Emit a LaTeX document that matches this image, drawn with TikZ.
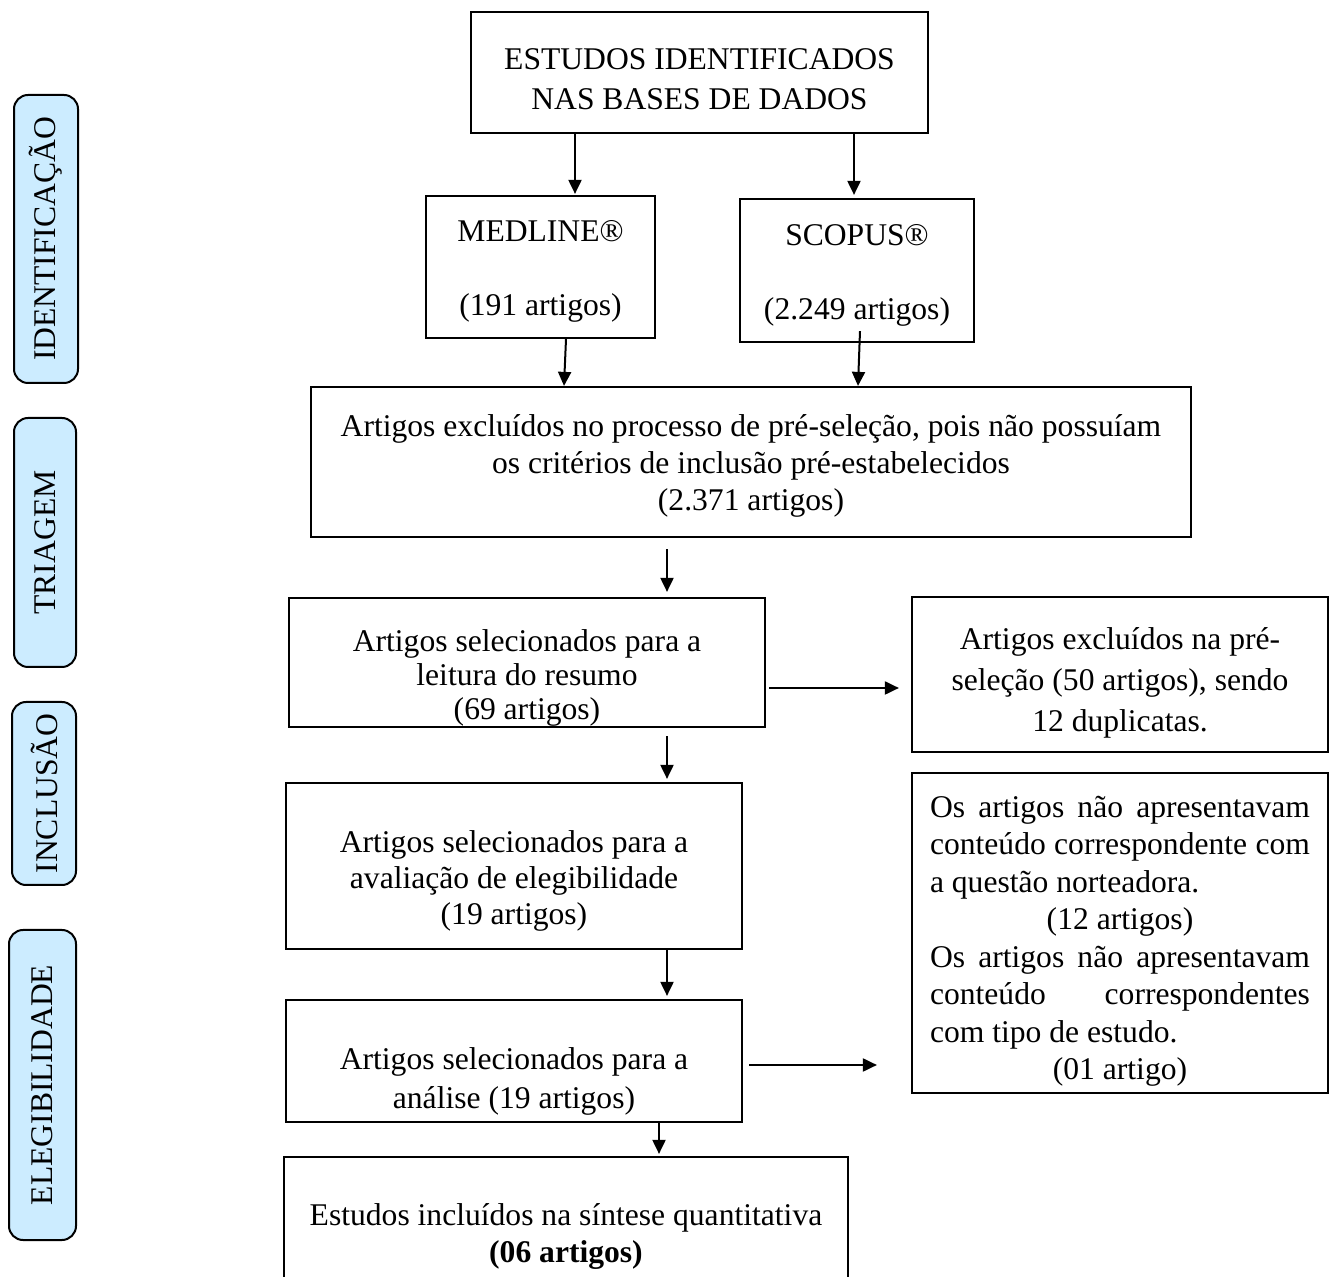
\documentclass[tikz,border=0pt]{standalone}
\usepackage{fontspec}
\setmainfont{Liberation Serif}
\usetikzlibrary{arrows.meta,calc}
\definecolor{lblue}{RGB}{204,236,255}
\newcommand{\dn}[1]{\rule{0pt}{#1}}
\tikzset{
  box/.style={draw=black, line width=1.1pt, rectangle, inner sep=0pt, align=center, font=\fontsize{15.8}{18}\selectfont},
  phase/.style={draw=black, line width=1pt, fill=lblue, rounded corners=7pt, rotate=90, inner sep=0pt, font=\fontsize{15.8}{18}\selectfont},
  arr/.style={line width=1pt, -{Triangle[length=7pt,width=6.5pt]}}
}
\begin{document}
\begin{tikzpicture}[x=0.5pt,y=-0.5pt]
\useasboundingbox (0,0) rectangle (1329,1277);
\clip (0,0) rectangle (1329,1277);
% phase labels
\node[phase, minimum width=288*0.5pt, minimum height=64*0.5pt] (ph1) at (46,239) {IDENTIFICAÇÃO};
\node[phase, minimum width=249*0.5pt, minimum height=62*0.5pt] (ph2) at (45,542.5) {TRIAGEM};
\node[phase, minimum width=183*0.5pt, minimum height=64*0.5pt] (ph3) at (44,793.5) {INCLUSÃO};
\node[phase, minimum width=310*0.5pt, minimum height=67*0.5pt] (ph4) at (42.5,1085) {ELEGIBILIDADE};
% boxes
\node[box, minimum width=457*0.5pt, minimum height=121*0.5pt, font=\fontsize{15.8}{20}\selectfont] (top) at (699.5,72.5) {\dn{17pt}ESTUDOS IDENTIFICADOS\\NAS BASES DE DADOS};
\node[box, minimum width=229*0.5pt, minimum height=142*0.5pt] (med) at (540.5,267) {\dn{15pt}MEDLINE®\\[19pt](191 artigos)};
\node[box, minimum width=234*0.5pt, minimum height=143*0.5pt] (sco) at (857,270.5) {\dn{15pt}SCOPUS®\\[19pt](2.249 artigos)};
\node[box, minimum width=880*0.5pt, minimum height=150*0.5pt, font=\fontsize{15.8}{18.6}\selectfont] (pre) at (751,462) {\dn{15pt}Artigos excluídos no processo de pré-seleção, pois não possuíam\\os critérios de inclusão pré-estabelecidos\\(2.371 artigos)};
\node[box, minimum width=476*0.5pt, minimum height=129*0.5pt, font=\fontsize{15.8}{17}\selectfont] (l1) at (527,662.5) {\dn{26pt}Artigos selecionados para a\\leitura do resumo\\(69 artigos)};
\node[box, minimum width=416*0.5pt, minimum height=155*0.5pt, font=\fontsize{15.8}{20.5}\selectfont] (r1) at (1120,674.5) {\dn{19pt}Artigos excluídos na pré-\\seleção (50 artigos), sendo\\12 duplicatas.};
\node[box, minimum width=456*0.5pt, minimum height=166*0.5pt] (l2) at (514,866) {\dn{26pt}Artigos selecionados para a\\avaliação de elegibilidade\\(19 artigos)};
\node[box, minimum width=416*0.5pt, minimum height=320*0.5pt, align=left] (r2) at (1120,933) {%
\begin{minipage}{190pt}\fontsize{15.8}{18.75}\selectfont
\dn{19pt}\makebox[\linewidth][s]{Os artigos não apresentavam}\\
\makebox[\linewidth][s]{conteúdo correspondente com}\\
a questão norteadora.\\
\makebox[\linewidth][c]{(12 artigos)}\\
\makebox[\linewidth][s]{Os artigos não apresentavam}\\
\makebox[\linewidth][s]{conteúdo correspondentes}\\
com tipo de estudo.\\
\makebox[\linewidth][c]{(01 artigo)}
\end{minipage}};
\node[box, minimum width=456*0.5pt, minimum height=122*0.5pt, font=\fontsize{15.8}{19.5}\selectfont] (l3) at (514,1061) {\dn{31pt}Artigos selecionados para a\\análise (19 artigos)};
\node[box, minimum width=564*0.5pt, minimum height=140*0.5pt, font=\fontsize{15.8}{18.5}\selectfont] (fin) at (566,1227) {\dn{20pt}Estudos incluídos na síntese quantitativa\\\textbf{(06 artigos)}};
% helper coordinates
\coordinate (xa) at (575,0);
\coordinate (xb) at (854,0);
\coordinate (xc1) at (566,0);
\coordinate (xc2) at (564,0);
\coordinate (xd1) at (860,0);
\coordinate (xd2) at (858,0);
\coordinate (xe) at (667,0);
\coordinate (xf) at (659,0);
\coordinate (ya) at (0,688);
\coordinate (yb) at (0,1065);
% connectors
\draw[arr] (top.south -| xa) -- ($(med.north -| xa)+(0,-1)$);
\draw[arr] (top.south -| xb) -- ($(sco.north -| xb)+(0,-3)$);
\draw[arr] (med.south -| xc1) -- (pre.north -| xc2);
\draw[arr] ($(sco.south -| xd1)+(0,-12)$) -- (pre.north -| xd2);
\draw[arr] ($(pre.south -| xe)+(0,11)$) -- ($(l1.north -| xe)+(0,-5)$);
\draw[arr] ($(l1.east |- ya)+(3,0)$) -- ($(r1.west |- ya)+(-12,0)$);
\draw[arr] ($(l1.south -| xe)+(0,8)$) -- ($(l2.north -| xe)+(0,-3)$);
\draw[arr] (l2.south -| xe) -- ($(l3.north -| xe)+(0,-3)$);
\draw[arr] ($(l3.east |- yb)+(6,0)$) -- ($(r2.west |- yb)+(-34,0)$);
\draw[arr] (l3.south -| xf) -- ($(fin.north -| xf)+(0,-2)$);
\end{tikzpicture}
\end{document}
